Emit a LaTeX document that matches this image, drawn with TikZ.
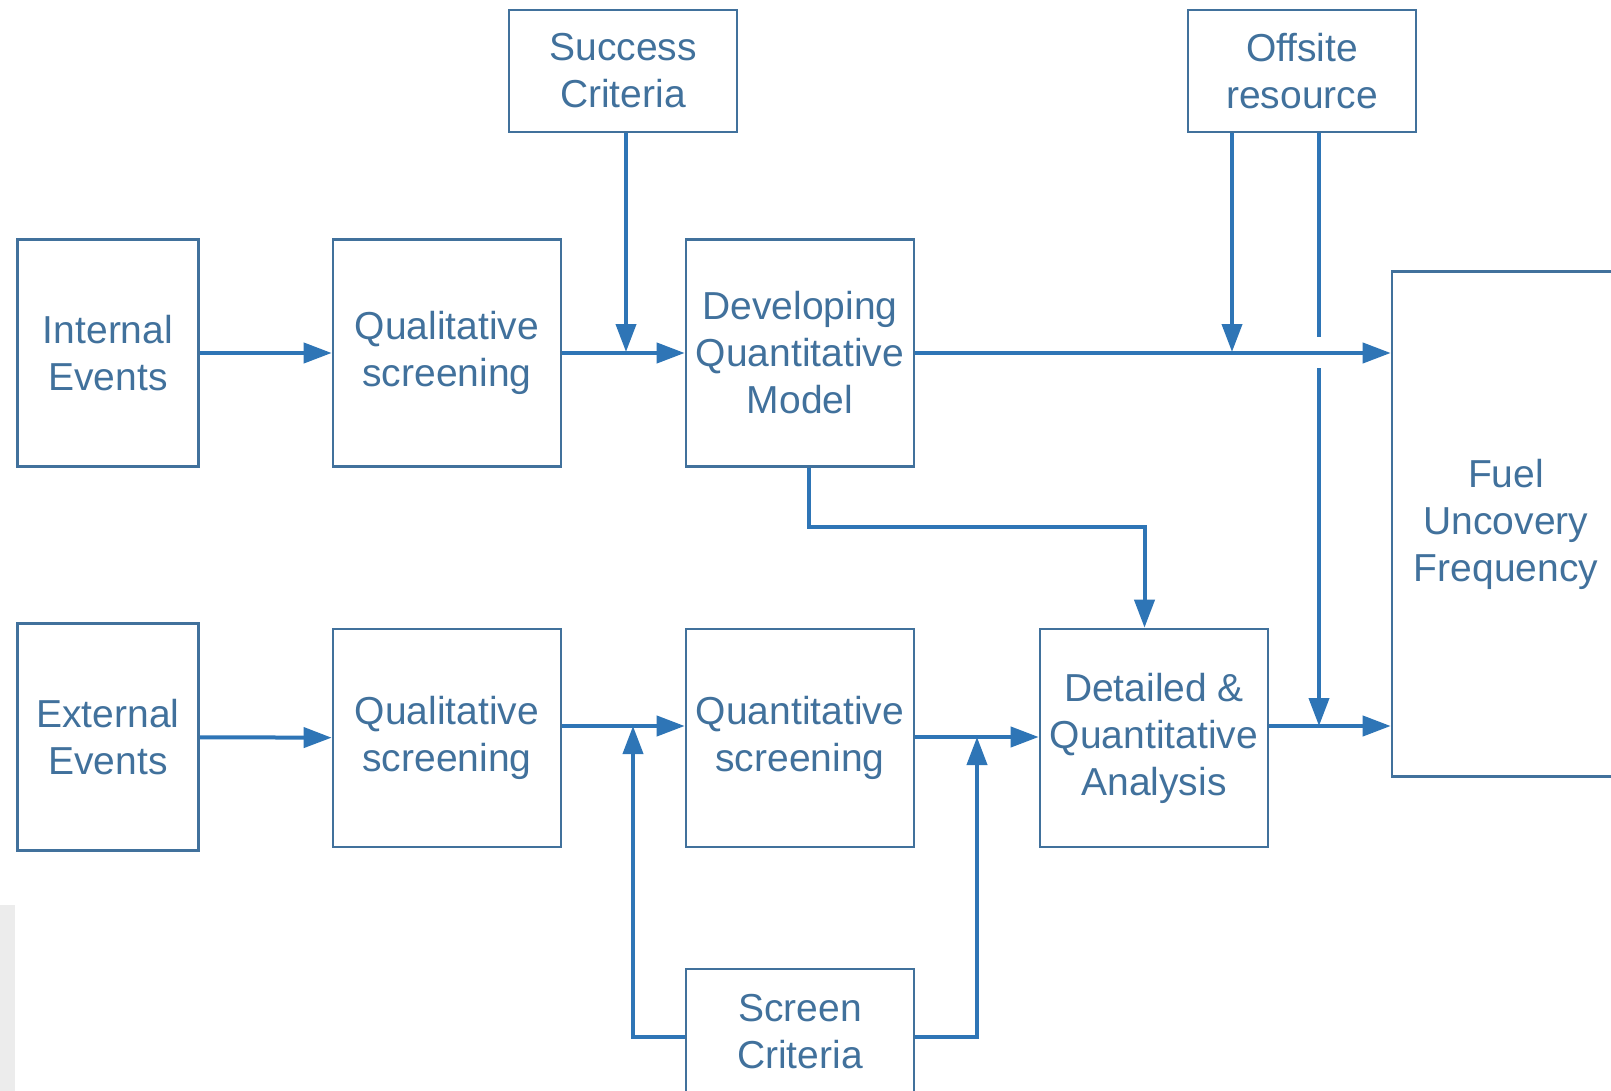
\documentclass[tikz,border=0pt]{standalone}
\usepackage{fontspec}
\setmainfont{Liberation Sans}
\usetikzlibrary{arrows.meta}
\definecolor{boxblue}{HTML}{41719C}
\definecolor{arrowblue}{HTML}{2E75B6}
\begin{document}
\begin{tikzpicture}[x=0.5pt,y=-0.5pt,
  box/.style={draw=boxblue, line width=1.3pt, text=boxblue, align=center, inner sep=0pt,
    font=\fontsize{19.5}{23.5}\selectfont, minimum width=114pt, minimum height=109pt},
  flow/.style={draw=arrowblue, line width=2pt, -{Triangle[length=14pt,width=10pt]}},
  plain/.style={draw=arrowblue, line width=2pt}]
\clip (0,0) rectangle (1611,1091);
\fill[gray!15] (0,905) rectangle (15,1091);

\node[box, minimum width=90.5pt, minimum height=113.5pt] at (108,353) (intev) {Internal\\Events};
\node[box, minimum height=113.5pt] at (447,353) (qual1) {Qualitative\\screening};
\node[box, minimum height=113.5pt] at (800,353) (devmod) {Developing\\Quantitative\\Model};
\node[box, minimum height=61pt] at (623,71) (succ) {Success\\Criteria};
\node[box, minimum height=61pt] at (1302,71) (offsite) {Offsite\\resource};
\node[box, minimum height=252.5pt] at (1506,524) (fuel) {Fuel\\Uncovery\\Frequency};
\node[box, minimum width=90.5pt, minimum height=113.5pt] at (108,737) (extev) {External\\Events};
\node[box] at (447,738) (qual2) {Qualitative\\screening};
\node[box] at (800,738) (quant) {Quantitative\\screening};
\node[box] at (1154,738) (detail) {Detailed \&\\Quantitative\\Analysis};
\node[box, minimum height=63pt] at (800,1032) (screen) {Screen\\Criteria};

\coordinate (succin) at (626,352);
\coordinate (offa) at (1232,352);
\coordinate (gaptop) at (1319,337);
\coordinate (gapbot) at (1319,368);
\coordinate (fuelin) at (1319,726);
\coordinate (bend) at (1144.5,527);
\coordinate (screenl) at (633,726);
\coordinate (screenr) at (977,737);

% top row
\draw[flow] (intev) -- (qual1);
\draw[flow] (qual1) -- (devmod);
\draw[flow] (succ.south -| succin) -- (succin);
\draw[flow] (devmod) -- (fuel.west |- devmod);
\draw[flow] (offsite.south -| offa) -- (offa);
\draw[plain] (offsite.south -| gaptop) -- (gaptop);
\draw[flow] (gapbot) -- (fuelin);
\draw[flow] ([xshift=4.3pt]devmod.south) |- (bend) -- (detail.north -| bend);

% bottom row
\draw[flow] (extev) -- (qual2);
\draw[flow] (qual2.east |- screenl) -- (quant.west |- screenl);
\draw[flow] (quant.east |- screenr) -- (detail.west |- screenr);
\draw[flow] (detail.east |- fuelin) -- (fuel.west |- fuelin);
\draw[flow] ([yshift=-2.5pt]screen.west) -| (screenl);
\draw[flow] ([yshift=-2.5pt]screen.east) -| (screenr);

\end{tikzpicture}
\end{document}
